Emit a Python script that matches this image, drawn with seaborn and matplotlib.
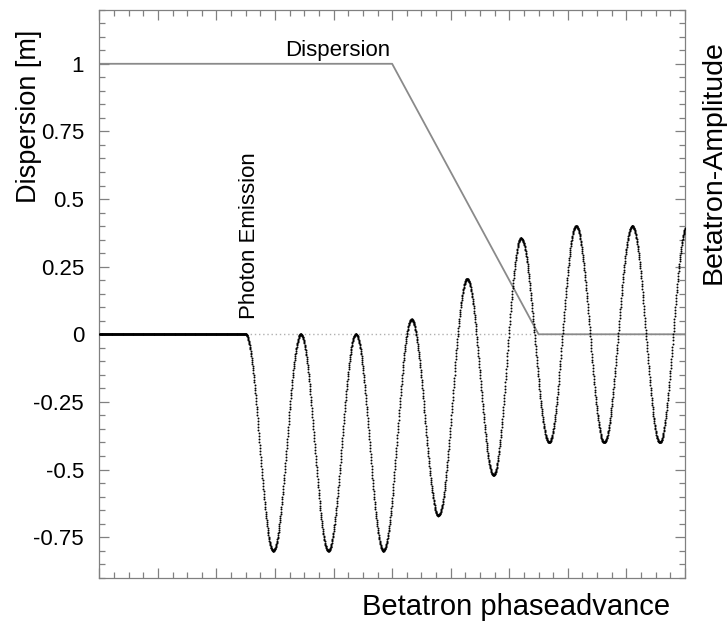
import numpy as np
import pandas as pd
import seaborn as sns
import matplotlib.pyplot as plt
from matplotlib.ticker import MultipleLocator, FuncFormatter

# dispersion function (knots)
disp_x = [0.0, 5.0, 7.5, 10.0]
disp_y = [1.0, 1.0, 0.0, 0.0]

# photon emission point and turning points of the betatron oscillation
emit_x = 2.5
turn_x = [2.50, 2.97, 3.44, 3.91, 4.38, 4.85, 5.33, 5.79, 6.28, 6.73, 7.20, 7.68, 8.14, 8.62, 9.10, 9.57, 10.03]
turn_y = [0.00, -0.80, 0.00, -0.80, 0.00, -0.80, 0.055, -0.67, 0.205, -0.52, 0.355, -0.40, 0.40, -0.40, 0.40, -0.40, 0.40]

ytick_vals = [1, 0.75, 0.5, 0.25, 0, -0.25, -0.5, -0.75]

sns.set_theme(style='ticks')
plt.rcParams['font.family'] = ['Liberation Sans', 'DejaVu Sans']
plt.rcParams['axes.unicode_minus'] = False
plt.rcParams['text.color'] = 'black'
plt.rcParams['ytick.labelcolor'] = 'black'

# dots sampled evenly in x, shaped as half-waves between the turning points
xs = np.linspace(0, 10, 2400)
ys = np.zeros_like(xs)
for xa, xb, ya, yb in zip(turn_x[:-1], turn_x[1:], turn_y[:-1], turn_y[1:]):
    m = (xs >= xa) & (xs <= xb)
    t = (xs[m] - xa) / (xb - xa)
    ys[m] = (ya + yb) / 2 + (ya - yb) / 2 * np.cos(np.pi * t)
orbit = pd.DataFrame({'x': xs, 'y': ys})
disp = pd.DataFrame({'x': disp_x, 'y': disp_y})

fig = plt.figure(figsize=(7.27, 6.21), dpi=100)
ax = fig.add_axes([0.1366, 0.0697, 0.8056, 0.9147])

ax.plot([emit_x, 10], [0, 0], color='#b0b0b0', lw=1.0, ls=(0, (1, 2)), zorder=1)
sns.lineplot(data=disp, x='x', y='y', color='#8a8a8a', lw=1.3, ax=ax, zorder=2)
sns.scatterplot(data=orbit, x='x', y='y', color='black', s=2.0, linewidth=0, ax=ax, zorder=3)

ax.set_xlim(0, 10)
ax.set_ylim(-0.9, 1.2)
ax.set_xlabel('')
ax.set_ylabel('')

ax.xaxis.set_major_locator(MultipleLocator(1))
ax.xaxis.set_minor_locator(MultipleLocator(0.25))
ax.yaxis.set_major_locator(MultipleLocator(0.25))
ax.yaxis.set_minor_locator(MultipleLocator(0.05))
ax.set_yticks(ytick_vals)
ax.yaxis.set_major_formatter(FuncFormatter(lambda v, p: '%g' % v))
ax.set_xticklabels([])

ax.tick_params(which='both', direction='in', top=True, right=True, color='#808080', width=0.9)
ax.tick_params(which='major', length=7.5)
ax.tick_params(which='minor', length=4)
ax.tick_params(axis='y', which='major', labelsize=16, pad=11, labelcolor='black')
for s in ax.spines.values():
    s.set_color('#808080')
    s.set_linewidth(0.9)

ax.text(4.07, 1.03, 'Dispersion', fontsize=16, ha='center', va='baseline', color='black')
ax.text(2.57, 0.055, 'Photon Emission', fontsize=16, rotation=90, ha='center', va='bottom', color='black')

fig.text(0.04, 0.813, 'Dispersion [m]', fontsize=19.5, rotation=90, ha='center', va='center', color='black')
fig.text(0.981, 0.936, 'Betatron-Amplitude', fontsize=20.5, rotation=90, ha='center', va='top', color='black')
fig.text(0.9216, 0.0097, 'Betatron phaseadvance', fontsize=21, ha='right', va='baseline', color='black')

plt.savefig('out.png', dpi=100)
